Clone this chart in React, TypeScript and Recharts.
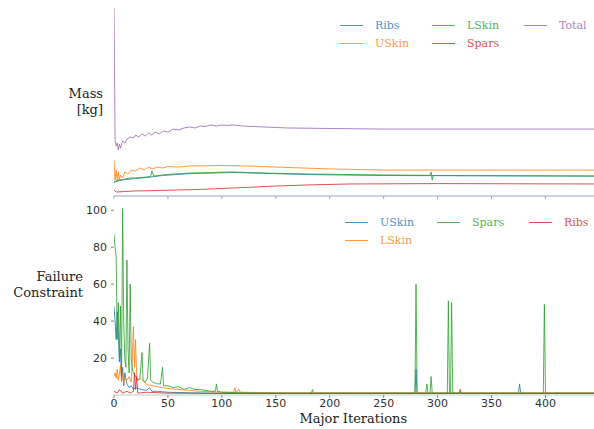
import { LineChart, Line, XAxis, YAxis } from "recharts";

const iterTicks = [0, 50, 100, 150, 200, 250, 300, 350, 400];
const failTicks = [20, 40, 60, 80, 100];

// mass history per component, [major iteration, mass] (no scale printed)
const massRibs = [
  [0, 7.2], [2, 7.7], [5, 8.2], [10, 8.7], [20, 9.3], [30, 9.8], [45, 10.9], [70, 11.9],
  [110, 12.5], [180, 11.4], [250, 10.9], [445, 10.6],
];
const massUSkin = [
  [0, 19.1], [1, 8.5], [2, 13.8], [3, 7.4], [4, 12.8], [5, 8.5], [6, 11.2], [8, 9.6],
  [10, 12.8], [13, 11.7], [16, 13.8], [20, 13.3], [24, 14.9], [28, 13.8], [32, 15.4],
  [36, 14.4], [40, 15.4], [45, 14.9], [50, 15.7], [60, 15.4], [70, 16], [80, 16],
  [100, 16.2], [120, 16], [150, 15.4], [200, 14.4], [250, 13.8], [300, 13.8], [445, 13.8],
];
const massLSkin = [
  [0, 7.4], [2, 8], [5, 8.5], [10, 9], [15, 9.6], [20, 9.6], [30, 10.1], [34, 10.4],
  [35, 13.3], [37, 10.6], [45, 11.2], [55, 11.7], [70, 12.2], [90, 12.5], [110, 12.8],
  [140, 12.2], [180, 11.7], [250, 11.2], [293, 11], [294, 12.8], [295, 8.5], [296, 10.9],
  [300, 10.9], [445, 10.6],
];
const massSpars = [
  [0, 3.2], [2, 2.1], [10, 2.4], [20, 2.7], [40, 2.9], [60, 3.2], [80, 3.5], [100, 4],
  [120, 4.5], [150, 5.3], [180, 5.9], [220, 6.4], [300, 6.6], [445, 6.4],
];
const massTotal = [
  [0, 100], [1, 29.8], [2, 26.6], [3, 28.2], [4, 24.5], [5, 27.7], [6, 25.5], [8, 29.3],
  [10, 28.2], [12, 30.3], [15, 31.4], [18, 30.9], [20, 32.4], [23, 31.4], [26, 33],
  [29, 31.9], [32, 33.5], [35, 32.4], [38, 34], [42, 33], [46, 34.6], [50, 34], [55, 35.6],
  [60, 35.1], [65, 36.2], [70, 36.7], [75, 36.2], [80, 37.2], [85, 37], [90, 37.8],
  [95, 37.2], [100, 37.8], [105, 37.5], [110, 37.8], [120, 37.2], [140, 36.7],
  [160, 36.2], [200, 35.9], [250, 35.6], [445, 35.6],
];

// failure constraint history, [major iteration, value]
const failUSkin = [
  [0, 48], [1, 40], [2, 30], [3, 45], [4, 35], [5, 18], [6, 25], [7, 8], [8, 15], [9, 5],
  [10, 12], [12, 6], [14, 4], [16, 5], [18, 3], [20, 4], [25, 3], [30, 2.5], [33, 4],
  [35, 2], [40, 2], [50, 1.5], [70, 1.2], [100, 1], [279, 1], [280, 14], [281, 1],
  [375, 1], [376, 6], [377, 1], [445, 1],
];
const failLSkin = [
  [0, 10], [1, 12], [2, 9], [3, 14], [4, 8], [5, 11], [6, 16], [7, 7], [8, 12], [9, 6],
  [10, 9], [12, 8], [14, 10], [16, 7], [17, 20], [18, 37], [19, 15], [20, 30], [21, 10],
  [22, 8], [25, 9], [28, 7], [30, 6], [35, 5], [40, 4.5], [45, 4], [50, 3.5], [60, 3],
  [70, 2.5], [80, 2], [100, 1.5], [111, 1.5], [112, 4], [113, 1.5], [116, 3], [117, 1.5],
  [150, 1.2], [445, 1.2],
];
const failSpars = [
  [0, 87], [1, 80], [2, 75], [3, 30], [4, 50], [5, 20], [6, 48], [7, 10], [8, 101],
  [9, 40], [10, 20], [11, 15], [12, 73], [13, 25], [14, 12], [15, 60], [16, 20], [17, 14],
  [18, 12], [20, 10], [22, 8], [24, 9], [26, 23], [27, 8], [29, 7], [31, 9], [33, 28],
  [34, 8], [36, 7], [40, 6], [43, 6], [45, 15], [46, 5], [50, 5], [55, 4], [60, 4.5],
  [65, 3], [70, 4], [75, 3], [80, 3], [85, 2.5], [90, 2], [94, 2], [95, 6], [96, 2],
  [100, 1.5], [120, 1.2], [150, 1], [183, 1], [184, 3], [185, 1], [279, 1], [280, 60],
  [281, 1], [289, 1], [290, 6], [291, 1], [293, 1], [294, 10], [295, 1], [309, 1],
  [310, 51], [311, 1], [312, 1], [313, 50], [314, 1], [398, 1], [399, 49], [400, 1],
  [445, 1],
];
const failRibs = [
  [0, 2], [3, 1], [5, 3], [8, 1], [12, 2], [15, 1], [18, 2], [19, 12], [20, 3], [21, 10],
  [22, 1], [30, 1.5], [50, 1], [100, 0.8], [320, 0.8], [321, 3], [322, 0.8], [445, 0.8],
];

const C0 = "#1f77b4";
const C1 = "#ff7f0e";
const C2 = "#2ca02c";
const C3 = "#d62728";
const C4 = "#9467bd";

const pts = (pairs: number[][]) => pairs.map(([x, y]) => ({ x, y }));

const massSeries = [
  { name: "Ribs", color: C0, data: massRibs },
  { name: "USkin", color: C1, data: massUSkin },
  { name: "LSkin", color: C2, data: massLSkin },
  { name: "Spars", color: C3, data: massSpars },
  { name: "Total", color: C4, data: massTotal },
];
const failSeries = [
  { name: "USkin", color: C0, data: failUSkin },
  { name: "LSkin", color: C1, data: failLSkin },
  { name: "Spars", color: C2, data: failSpars },
  { name: "Ribs", color: C3, data: failRibs },
];

const serif = "DejaVu Serif, Liberation Serif, serif";
const sans = "DejaVu Sans, sans-serif";

function LegendBox({ items, x, y }: { items: { name: string; color: string; col: number; row: number }[]; x: number; y: number }) {
  return (
    <>
      {items.map((it) => (
        <div
          key={it.name}
          style={{
            position: "absolute",
            left: x + it.col * 92,
            top: y + it.row * 18 - 8,
            height: 16,
            display: "flex",
            alignItems: "center",
            fontFamily: serif,
            fontSize: 11,
            color: it.color,
            opacity: 0.8,
          }}
        >
          <svg width={35} height={16} style={{ display: "block" }}>
            <line x1={0} x2={23} y1={8.5} y2={8.5} stroke={it.color} strokeWidth={1} />
          </svg>
          {it.name}
        </div>
      ))}
    </>
  );
}

export default function App() {
  return (
    <div style={{ position: "absolute", left: 0, top: 0, width: 594, height: 429, background: "#fff", overflow: "hidden" }}>
      <div style={{ position: "absolute", left: 0, top: 0 }}>
        <LineChart width={594} height={210} margin={{ top: 8, right: 0, bottom: 0, left: 114 }}>
          <XAxis
            type="number"
            dataKey="x"
            domain={[0, 445]}
            ticks={iterTicks}
            allowDataOverflow
            height={14}
            tickSize={3}
            tickFormatter={() => ""}
            axisLine={{ stroke: "#9aa8b8" }}
            tickLine={{ stroke: "#9aa8b8" }}
          />
          <YAxis type="number" domain={[0, 100]} hide />
          {massSeries.map((s) => (
            <Line
              key={s.name}
              data={pts(s.data)}
              dataKey="y"
              stroke={s.color}
              strokeWidth={1}
              strokeOpacity={0.8}
              dot={false}
              isAnimationActive={false}
            />
          ))}
        </LineChart>
      </div>
      <div style={{ position: "absolute", left: 0, top: 190 }}>
        <LineChart width={594} height={239} margin={{ top: 11, right: 0, bottom: 0, left: 0 }}>
          <XAxis
            type="number"
            dataKey="x"
            domain={[0, 445]}
            ticks={iterTicks}
            allowDataOverflow
            height={34}
            tickSize={3}
            tickMargin={1}
            tick={{ fontSize: 11, fill: "#333", fontFamily: sans }}
            axisLine={{ stroke: "#c8c8c8" }}
            tickLine={{ stroke: "#888" }}
          />
          <YAxis
            type="number"
            domain={[0, 105]}
            ticks={failTicks}
            width={114}
            tickSize={3}
            tickMargin={4}
            tick={{ fontSize: 11, fill: "#333", fontFamily: sans }}
            axisLine={false}
            tickLine={{ stroke: "#888" }}
          />
          {failSeries.map((s) => (
            <Line
              key={s.name}
              data={pts(s.data)}
              dataKey="y"
              stroke={s.color}
              strokeWidth={1}
              strokeOpacity={0.8}
              dot={false}
              isAnimationActive={false}
            />
          ))}
        </LineChart>
      </div>

      <div style={{ position: "absolute", right: 594 - 103, top: 86, textAlign: "right", fontFamily: serif, fontSize: 13, lineHeight: "16px", color: "#222" }}>
        Mass
        <br />
        [kg]
      </div>
      <div style={{ position: "absolute", right: 594 - 83, top: 269, textAlign: "right", fontFamily: serif, fontSize: 13, lineHeight: "16px", color: "#222" }}>
        Failure
        <br />
        Constraint
      </div>
      <div style={{ position: "absolute", left: 114 + 222 * 1.078 - 80, width: 160, top: 411, textAlign: "center", fontFamily: serif, fontSize: 13, color: "#222" }}>
        Major Iterations
      </div>

      <LegendBox
        x={340}
        y={25}
        items={[
          { name: "Ribs", color: C0, col: 0, row: 0 },
          { name: "USkin", color: C1, col: 0, row: 1 },
          { name: "LSkin", color: C2, col: 1, row: 0 },
          { name: "Spars", color: C3, col: 1, row: 1 },
          { name: "Total", color: C4, col: 2, row: 0 },
        ]}
      />
      <LegendBox
        x={345}
        y={222}
        items={[
          { name: "USkin", color: C0, col: 0, row: 0 },
          { name: "LSkin", color: C1, col: 0, row: 1 },
          { name: "Spars", color: C2, col: 1, row: 0 },
          { name: "Ribs", color: C3, col: 2, row: 0 },
        ]}
      />
    </div>
  );
}
